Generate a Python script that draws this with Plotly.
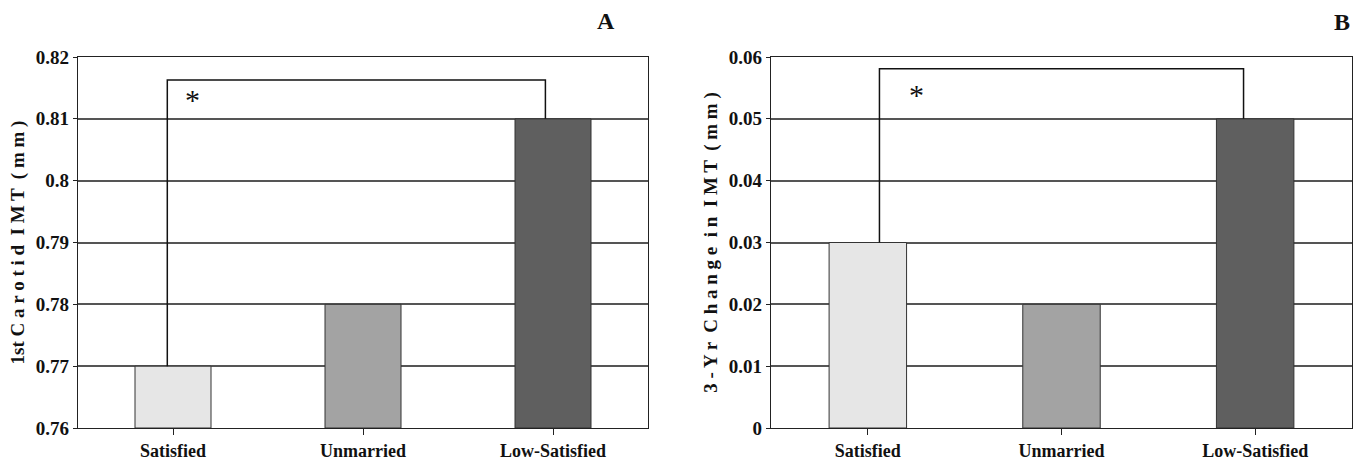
import plotly.graph_objects as go

categories = ["Satisfied", "Unmarried", "Low-Satisfied"]
imt_first = [0.77, 0.78, 0.81]
imt_change = [0.03, 0.02, 0.05]
bar_colors = ["#e6e6e6", "#a3a3a3", "#5f5f5f"]

a_ticks = [0.76, 0.77, 0.78, 0.79, 0.80, 0.81, 0.82]
a_ticktext = ["0.76", "0.77", "0.78", "0.79", "0.8", "0.81", "0.82"]
b_ticks = [0.0, 0.01, 0.02, 0.03, 0.04, 0.05, 0.06]
b_ticktext = ["0", "0.01", "0.02", "0.03", "0.04", "0.05", "0.06"]

# significance brackets (category index positions, y levels)
a_bracket_x = [-0.03, -0.03, 1.96, 1.96]
a_bracket_y = [0.77, 0.8163, 0.8163, 0.81]
b_bracket_x = [0.06, 0.06, 1.94, 1.94]
b_bracket_y = [0.03, 0.0581, 0.0581, 0.05]

FONT = "Liberation Serif"
W, H = 1354, 466
ML, MR, MT, MB = 78, 2, 57, 38

fig = go.Figure()
fig.add_trace(go.Bar(x=[0, 1, 2], y=[v - 0.76 for v in imt_first], base=0.76,
                     marker=dict(color=bar_colors, line=dict(color="#333333", width=1)),
                     width=0.4, xaxis="x", yaxis="y", showlegend=False))
fig.add_trace(go.Bar(x=[0, 1, 2], y=imt_change,
                     marker=dict(color=bar_colors, line=dict(color="#333333", width=1)),
                     width=0.4, xaxis="x2", yaxis="y2", showlegend=False))
fig.add_trace(go.Scatter(x=a_bracket_x, y=a_bracket_y, mode="lines",
                         line=dict(color="#111111", width=1.5), xaxis="x", yaxis="y",
                         showlegend=False))
fig.add_trace(go.Scatter(x=b_bracket_x, y=b_bracket_y, mode="lines",
                         line=dict(color="#111111", width=1.5), xaxis="x2", yaxis="y2",
                         showlegend=False))

tick_font = dict(family=FONT, size=19, color="#111111", weight="bold")
xcommon = dict(tickmode="array", tickvals=[0, 1, 2], ticktext=categories,
               range=[-0.5, 2.5], showgrid=False, showline=True, linecolor="#222222",
               linewidth=1.2, mirror=True, ticks="outside", tickson="boundaries",
               ticklen=6, tickcolor="#222222",
               tickfont=dict(family=FONT, size=18, color="#111111", weight="bold"))
ycommon = dict(showgrid=True, gridcolor="#555555", gridwidth=1.5, showline=True,
               linecolor="#222222", linewidth=1.2, mirror=True, ticks="outside",
               ticklen=4, tickcolor="#222222", tickfont=tick_font, zeroline=False)
title_font = dict(family=FONT, size=19, color="#111111", weight="bold")

pw, ph = W - ML - MR, H - MT - MB


def to_paper(px, py):
    return (px - ML) / pw, (H - MB - py) / ph


ax_, ay_ = to_paper(606, 21)
bx_, by_ = to_paper(1352, 22)

fig.update_layout(
    width=W, height=H,
    margin=dict(l=ML, r=MR, t=MT, b=MB),
    paper_bgcolor="white", plot_bgcolor="white",
    font=dict(family=FONT, color="#111111"),
    xaxis=dict(domain=[0, 570 / pw], **xcommon),
    xaxis2=dict(domain=[(771 - ML) / pw, 1.0], anchor="y2", **xcommon),
    yaxis=dict(range=[0.76, 0.82], tickvals=a_ticks, ticktext=a_ticktext,
               title=dict(text="1st C a r o t i d  I M T  ( m m )",
                          font=title_font, standoff=6),
               **ycommon),
    yaxis2=dict(range=[0, 0.06], tickvals=b_ticks, ticktext=b_ticktext, anchor="x2",
                title=dict(text="3 - Y r  C h a n g e  i n  I M T  ( m m )",
                           font=title_font, standoff=6),
                **ycommon),
    annotations=[
        dict(text="*", x=0.1, y=0.8132, xref="x", yref="y", showarrow=False,
             xanchor="center", yanchor="middle",
             font=dict(family=FONT, size=30, color="#111111")),
        dict(text="*", x=0.25, y=0.0540, xref="x2", yref="y2", showarrow=False,
             xanchor="center", yanchor="middle",
             font=dict(family=FONT, size=30, color="#111111")),
        dict(text="<b>A</b>", x=ax_, y=ay_, xref="paper", yref="paper", showarrow=False,
             xanchor="center", yanchor="middle",
             font=dict(family=FONT, size=24, color="#111111")),
        dict(text="<b>B</b>", x=bx_, y=by_, xref="paper", yref="paper", showarrow=False,
             xanchor="right", yanchor="middle",
             font=dict(family=FONT, size=24, color="#111111")),
    ],
)

fig.write_html("out.html",
               config={"displayModeBar": False},
               post_script="document.body.style.margin='0px';"
                           "document.body.style.overflow='hidden';")
